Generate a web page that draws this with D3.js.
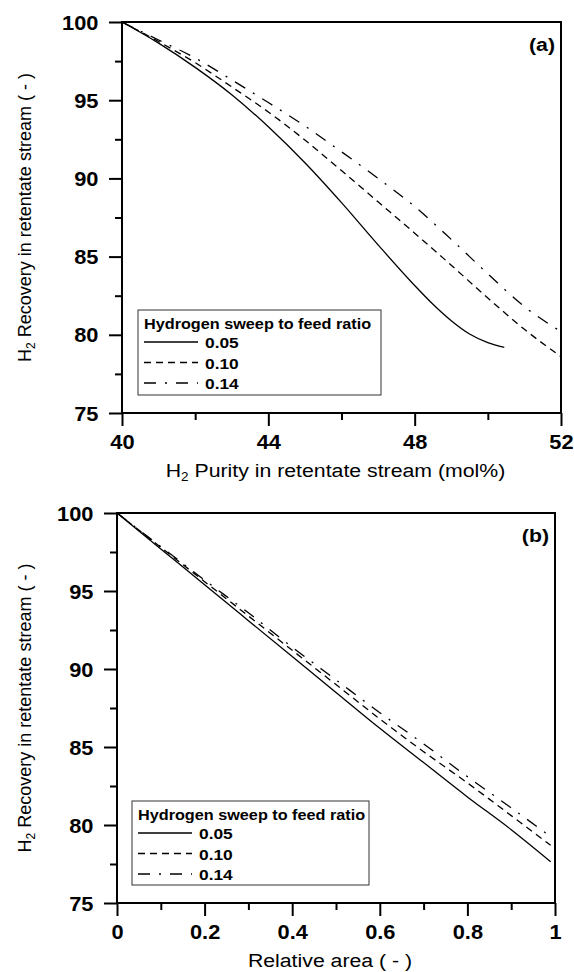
<!DOCTYPE html>
<html lang="en">
<head>
<meta charset="UTF-8">
<title>H2 Recovery vs Purity and Relative Area</title>
<script src="https://d3js.org/d3.v7.min.js"></script>
<style>
  body { margin: 0; background: #fff; }
  svg { font-family: "Liberation Sans", Arial, sans-serif; }
</style>
</head>
<body>
<svg width="574" height="972"></svg>
<script>
// ---- data ----
var ratioNames = ["0.05", "0.10", "0.14"];
var legendTitle = "Hydrogen sweep to feed ratio";

// panel (a): recovery vs purity
var purity005 = [40, 41, 42, 43, 44, 45, 46, 47, 48, 48.5, 49, 49.5, 50, 50.45];
var recovA005 = [100, 98.65, 97.1, 95.35, 93.3, 91.0, 88.45, 85.75, 83.15, 81.95, 80.9, 80.05, 79.5, 79.2];
var purity010 = [40, 41, 42, 43, 44, 45, 46, 47, 48, 49, 50, 51, 52];
var recovA010 = [100, 98.75, 97.4, 95.85, 94.25, 92.45, 90.5, 88.5, 86.5, 84.45, 82.35, 80.35, 78.6];
var purity014 = [40, 41, 42, 43, 44, 45, 46, 47, 48, 49, 50, 51, 52];
var recovA014 = [100, 98.85, 97.7, 96.3, 94.85, 93.35, 91.7, 90.0, 88.2, 86.1, 83.9, 81.8, 80.2];

// panel (b): recovery vs relative area
var relArea = [0, 0.1, 0.2, 0.3, 0.4, 0.5, 0.6, 0.7, 0.8, 0.9, 0.99];
var recovB005 = [100, 97.7, 95.4, 93.1, 90.8, 88.5, 86.2, 84.0, 81.8, 79.7, 77.65];
var recovB010 = [100, 97.8, 95.6, 93.4, 91.2, 89.0, 86.8, 84.7, 82.7, 80.6, 78.7];
var recovB014 = [100, 97.85, 95.7, 93.6, 91.4, 89.3, 87.2, 85.2, 83.1, 81.1, 79.25];

var xTicksA = [40, 44, 48, 52];
var xTicksB = [0, 0.2, 0.4, 0.6, 0.8, 1];
var yTicks = [75, 80, 85, 90, 95, 100];

var dashes = [null, "7,5", "12,9,2,9"];
var sx = 1.12; // the original lettering is a bit wide

var svg = d3.select("svg");

function zip(xs, ys) {
    return xs.map(function(x, i) { return {x: x, y: ys[i]}; });
}

// text placed with a slight horizontal stretch
function label(g, x, y, size, bold, anchor) {
    return g.append("text")
        .attr("transform", "translate(" + x + "," + y + ") scale(" + sx + ",1)")
        .attr("text-anchor", anchor || "start")
        .attr("font-size", size + "px")
        .attr("font-weight", bold ? "bold" : "normal");
}

function drawPanel(p) {
    var xScale = d3.scaleLinear().domain(p.xDomain).range([p.left, p.right]);
    var yScale = d3.scaleLinear().domain([75, 100]).range([p.bottom, p.top]);
    var g = svg.append("g");

    // minor ticks
    var xMinor = d3.axisBottom(xScale).tickValues(p.xMinor).tickSize(7).tickFormat("");
    var yMinor = d3.axisLeft(yScale).tickValues([77.5, 82.5, 87.5, 92.5, 97.5]).tickSize(7).tickFormat("");
    g.append("g").attr("transform", "translate(0," + p.bottom + ")").call(xMinor);
    g.append("g").attr("transform", "translate(" + p.left + ",0)").call(yMinor);

    var xAxis = d3.axisBottom(xScale).tickValues(p.xTicks).tickSize(13).tickPadding(9)
        .tickFormat(function(d) { return d; });
    var yAxis = d3.axisLeft(yScale).tickValues(yTicks).tickSize(13).tickPadding(8);
    g.append("g").attr("class", "xa").attr("transform", "translate(0," + p.bottom + ")").call(xAxis);
    g.append("g").attr("class", "ya").attr("transform", "translate(" + p.left + ",0)").call(yAxis);

    g.selectAll(".domain").remove();
    g.selectAll(".tick line").attr("stroke", "#000").attr("stroke-width", 2);
    g.selectAll(".tick text").attr("fill", "#000").attr("font-size", "19.5px")
        .attr("font-weight", "bold").attr("font-family", "Liberation Sans, Arial, sans-serif")
        .attr("transform", "scale(" + sx + ",1)");
    g.selectAll(".ya .tick text").attr("dy", "0.36em");

    // frame
    g.append("rect")
        .attr("x", p.left).attr("y", p.top)
        .attr("width", p.right - p.left).attr("height", p.bottom - p.top)
        .attr("fill", "none").attr("stroke", "#000").attr("stroke-width", 2);

    var line = d3.line()
        .x(function(d) { return xScale(d.x); })
        .y(function(d) { return yScale(d.y); })
        .curve(d3.curveMonotoneX);

    p.series.forEach(function(s, i) {
        g.append("path")
            .datum(s)
            .attr("d", line)
            .attr("fill", "none")
            .attr("stroke", "#000")
            .attr("stroke-width", 1.3)
            .attr("stroke-dasharray", dashes[i]);
    });

    // panel label
    label(g, p.right - 6, p.top + 29, 19, true, "end").text(p.label);

    // x title
    var xt = label(g, (p.left + p.right) / 2 - 6, p.bottom + 64, 19, false, "middle");
    if (p.xSub) {
        xt.append("tspan").text("H");
        xt.append("tspan").attr("font-size", "12px").attr("dy", 4).text("2");
        xt.append("tspan").attr("dy", -4).text(" Purity in retentate stream (mol%)");
    } else {
        xt.text(p.xTitle);
    }

    // y title
    var yt = g.append("text")
        .attr("transform", "translate(" + 31 + "," + ((p.top + p.bottom) / 2) + ") rotate(-90)")
        .attr("text-anchor", "middle")
        .attr("font-size", "18px");
    yt.append("tspan").text("H");
    yt.append("tspan").attr("font-size", "12px").attr("dy", 4).text("2");
    yt.append("tspan").attr("dy", -4).text(" Recovery in retentate stream ( - )");

    // legend
    var lg = p.legend;
    g.append("rect")
        .attr("x", lg.x).attr("y", lg.y).attr("width", lg.w).attr("height", lg.h)
        .attr("fill", "#fff").attr("stroke", "#333").attr("stroke-width", 1);
    label(g, lg.x + 6, lg.y + 19, 14.5, true).text(legendTitle);
    ratioNames.forEach(function(name, i) {
        var cy = lg.y + 32 + i * 20.5;
        g.append("line")
            .attr("x1", lg.x + 6).attr("x2", lg.x + 60)
            .attr("y1", cy).attr("y2", cy)
            .attr("stroke", "#000").attr("stroke-width", 1.3)
            .attr("stroke-dasharray", dashes[i]);
        label(g, lg.x + 67, cy + 6, 15.5, true).text(name);
    });
}

drawPanel({
    left: 122, right: 561, top: 22, bottom: 413,
    xDomain: [40, 52], xTicks: xTicksA, xMinor: [42, 46, 50],
    label: "(a)", xSub: true,
    series: [zip(purity005, recovA005), zip(purity010, recovA010), zip(purity014, recovA014)],
    legend: {x: 138, y: 310, w: 243, h: 85}
});

drawPanel({
    left: 117, right: 555, top: 513, bottom: 903,
    xDomain: [0, 1], xTicks: xTicksB, xMinor: [0.1, 0.3, 0.5, 0.7, 0.9],
    label: "(b)", xSub: false, xTitle: "Relative area ( - )",
    series: [zip(relArea, recovB005), zip(relArea, recovB010), zip(relArea, recovB014)],
    legend: {x: 132, y: 801, w: 237, h: 84}
});
</script>
</body>
</html>
